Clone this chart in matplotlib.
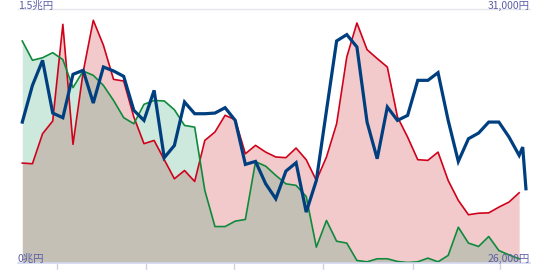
import matplotlib
matplotlib.use("Agg")
import matplotlib.pyplot as plt
import numpy as np

plt.rcParams['font.family'] = ['Noto Sans CJK JP', 'DejaVu Sans']

# weekly index (0..49)
weeks = list(range(50))

# left axis (兆円): two area series
red_vals = [0.589, 0.585, 0.763, 0.838, 1.411, 0.700, 1.128, 1.435, 1.287, 1.085,
            1.075, 0.862, 0.704, 0.723, 0.609, 0.496, 0.545, 0.480, 0.723, 0.773,
            0.872, 0.846, 0.644, 0.694, 0.654, 0.625, 0.621, 0.678, 0.609, 0.486,
            0.625, 0.822, 1.217, 1.419, 1.261, 1.208, 1.158, 0.862, 0.743, 0.609,
            0.605, 0.654, 0.486, 0.368, 0.283, 0.292, 0.294, 0.328, 0.358, 0.413]
green_vals = [1.312, 1.198, 1.213, 1.243, 1.202, 1.036, 1.134, 1.109, 1.049, 0.960,
              0.858, 0.822, 0.937, 0.960, 0.957, 0.905, 0.812, 0.802, 0.427, 0.213,
              0.213, 0.245, 0.255, 0.597, 0.571, 0.516, 0.466, 0.457, 0.391, 0.091,
              0.249, 0.126, 0.115, 0.012, 0.004, 0.022, 0.022, 0.006, 0.000, 0.004,
              0.026, 0.004, 0.042, 0.209, 0.115, 0.095, 0.154, 0.071, 0.045, 0.022]

# right axis (円): price line, with two extra points after the last week
blue_x = weeks + [49.35, 49.67]
blue_vals = [28773, 29498, 29992, 28951, 28859, 29716, 29795, 29149, 29861, 29782,
             29676, 29004, 28806, 29399, 28069, 28312, 29169, 28938, 28938, 28951,
             29057, 28806, 27937, 27996, 27555, 27258, 27805, 27970, 26995, 27621,
             29004, 30375, 30500, 30256, 28773, 28049, 29070, 28806, 28905, 29597,
             29597, 29749, 28806, 27996, 28444, 28556, 28773, 28773, 28477, 28115,
             28279, 27456]

tick_pos = [3.42, 12.2, 20.9, 29.65, 38.5, 47.1]

fig = plt.figure(figsize=(5.5, 2.7), dpi=100)
ax = fig.add_axes([18/550, 7.5/270, 512/550, 253.2/270])

ax.fill_between(weeks, red_vals, 0, color='#f3cacc', lw=0)
ax.plot(weeks, red_vals, color='#d0021b', lw=1.2)
ax.fill_between(weeks, green_vals, 0, color='#38a474', alpha=0.25, lw=0)
ax.plot(weeks, green_vals, color='#0f8a3c', lw=1.2)

ax.set_xlim(-0.424, 50.07)
ax.set_ylim(0, 1.5)
ax.set_yticks([])
ax.set_xticks(tick_pos)
ax.set_xticklabels([])
ax.tick_params(axis='x', direction='out', length=5, color='#cfd3ea', width=1)
for s in ['left', 'right']:
    ax.spines[s].set_visible(False)
ax.spines['bottom'].set_color('#d3d7ee')
ax.spines['bottom'].set_linewidth(1.2)
ax.spines['top'].set_color('#e6e6ec')
ax.spines['top'].set_linewidth(1)

ax2 = ax.twinx()
ax2.plot(blue_x, blue_vals, color='#003f7f', lw=2.3, solid_joinstyle='miter')
ax2.set_ylim(26000, 31000)
ax2.set_yticks([])
for s in ax2.spines.values():
    s.set_visible(False)

lc = '#5b5ea6'
fig.text(18/550, 1 - 8.5/270, '1.5兆円', color=lc, fontsize=7.5, ha='left', va='baseline')
fig.text(18/550, 1 - 262/270, '0兆円', color=lc, fontsize=7.5, ha='left', va='baseline')
fig.text(530/550, 1 - 8.5/270, '31,000円', color=lc, fontsize=7.5, ha='right', va='baseline')
fig.text(530/550, 1 - 262/270, '26,000円', color=lc, fontsize=7.5, ha='right', va='baseline')

fig.savefig('out.png', dpi=100)
